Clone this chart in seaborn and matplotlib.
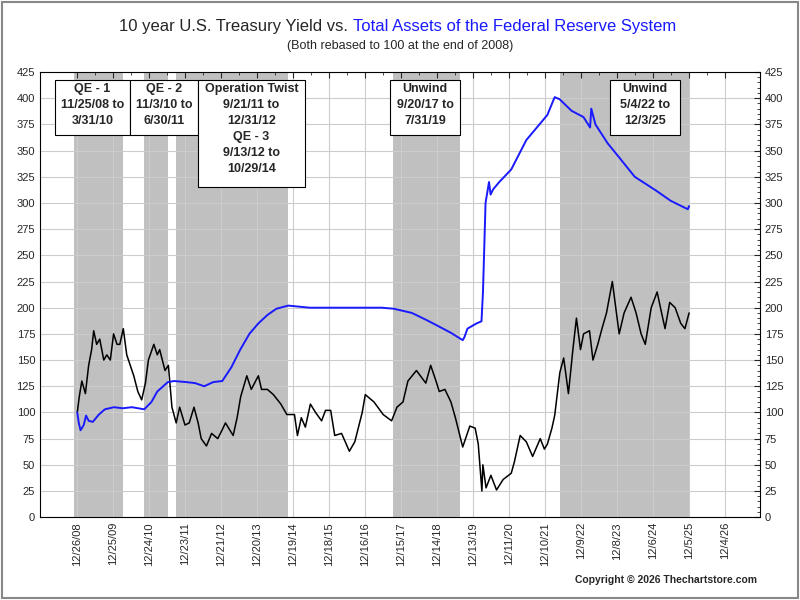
import numpy as np
import pandas as pd
import matplotlib
matplotlib.use("Agg")
import matplotlib.pyplot as plt
import matplotlib.transforms as mtransforms
from matplotlib.ticker import MultipleLocator
import seaborn as sns

sns.set_style("white")
plt.rcParams["font.family"] = ["Liberation Sans", "DejaVu Sans"]

# 10 year yield, rebased (end 2008 = 100)
yield_dates = ["2008-12-26", "2009-01-15", "2009-02-10", "2009-03-18", "2009-04-20", "2009-05-20",
               "2009-06-10", "2009-07-10", "2009-08-10", "2009-09-20", "2009-10-20", "2009-11-25",
               "2009-12-28", "2010-02-01", "2010-03-01", "2010-04-05", "2010-05-10", "2010-06-15",
               "2010-07-20", "2010-08-30", "2010-10-08", "2010-11-15", "2010-12-15", "2011-02-08",
               "2011-03-15", "2011-04-08", "2011-06-01", "2011-07-05", "2011-08-10", "2011-09-22",
               "2011-10-27", "2011-12-20", "2012-02-01", "2012-03-20", "2012-05-01", "2012-06-01",
               "2012-07-24", "2012-09-14", "2012-11-15", "2012-12-28", "2013-02-01", "2013-04-20",
               "2013-05-30", "2013-07-05", "2013-09-05", "2013-10-20", "2013-12-31", "2014-02-01",
               "2014-04-01", "2014-06-01", "2014-08-15", "2014-10-15", "2014-12-31", "2015-01-30",
               "2015-03-10", "2015-04-20", "2015-06-10", "2015-08-01", "2015-10-01", "2015-11-10",
               "2016-01-01", "2016-02-11", "2016-04-20", "2016-07-08", "2016-09-01", "2016-11-15",
               "2016-12-16", "2017-03-14", "2017-06-15", "2017-09-08", "2017-11-01", "2018-01-01",
               "2018-02-20", "2018-05-17", "2018-08-20", "2018-10-08", "2018-12-01", "2019-01-03",
               "2019-03-01", "2019-05-01", "2019-06-15", "2019-08-28", "2019-11-08", "2020-01-01",
               "2020-02-01", "2020-03-09", "2020-03-19", "2020-04-20", "2020-06-08", "2020-08-04",
               "2020-10-10", "2020-12-31", "2021-02-01", "2021-03-31", "2021-06-01", "2021-08-04",
               "2021-10-20", "2021-12-01", "2022-01-01", "2022-02-15", "2022-03-15", "2022-05-06",
               "2022-06-14", "2022-08-01", "2022-09-15", "2022-10-21", "2022-12-01", "2023-01-01",
               "2023-03-02", "2023-04-06", "2023-05-25", "2023-07-06", "2023-08-21", "2023-10-19",
               "2023-12-27", "2024-02-15", "2024-04-25", "2024-06-15", "2024-08-05", "2024-09-16",
               "2024-11-15", "2025-01-14", "2025-02-28", "2025-04-04", "2025-05-21", "2025-07-15",
               "2025-09-10", "2025-10-22", "2025-12-03"]
yield_vals = [100, 115, 130, 118, 145, 160, 178, 165, 170, 150, 155, 150,
              175, 165, 165, 180, 155, 145, 135, 120, 112, 128, 150, 165,
              155, 160, 140, 145, 105, 90, 105, 88, 90, 105, 90, 75,
              68, 80, 75, 83, 90, 78, 95, 115, 135, 122, 135, 122,
              122, 117, 108, 98, 98, 78, 95, 86, 108, 100, 92, 102,
              102, 78, 80, 63, 72, 100, 117, 110, 98, 92, 105, 110,
              130, 140, 128, 145, 130, 120, 122, 110, 95, 67, 87, 85,
              70, 25, 50, 28, 40, 26, 36, 42, 53, 78, 72, 58,
              75, 65, 70, 85, 97, 138, 152, 118, 160, 190, 160, 175,
              178, 150, 165, 180, 195, 225, 175, 195, 210, 195, 175, 165,
              200, 215, 195, 180, 205, 200, 185, 180, 195]

# Fed total assets, rebased (end 2008 = 100)
fed_dates = ["2008-12-26", "2009-01-10", "2009-01-28", "2009-03-01", "2009-03-25", "2009-04-20",
             "2009-06-01", "2009-08-01", "2009-10-01", "2009-12-31", "2010-03-31", "2010-07-01",
             "2010-11-03", "2011-01-15", "2011-03-15", "2011-06-30", "2011-09-01", "2011-12-31",
             "2012-04-01", "2012-07-01", "2012-10-01", "2012-12-31", "2013-04-01", "2013-07-01",
             "2013-10-01", "2013-12-31", "2014-04-01", "2014-07-01", "2014-10-29", "2015-06-01",
             "2016-06-01", "2017-06-01", "2017-10-01", "2018-04-01", "2018-09-01", "2019-01-01",
             "2019-05-01", "2019-08-28", "2019-09-15", "2019-10-15", "2020-01-15", "2020-03-05",
             "2020-03-20", "2020-04-15", "2020-05-20", "2020-06-05", "2020-07-01", "2020-09-01",
             "2020-12-31", "2021-06-01", "2021-12-31", "2022-03-15", "2022-05-04", "2022-09-01",
             "2022-12-31", "2023-03-08", "2023-03-20", "2023-05-01", "2023-09-01", "2023-12-31",
             "2024-06-01", "2024-12-31", "2025-06-01", "2025-11-20", "2025-12-03"]
fed_vals = [100, 90, 83, 88, 97, 92, 91, 98, 103, 105, 104, 105,
            103, 110, 120, 129, 130, 129, 128, 125, 129, 130, 143, 160,
            175, 185, 193, 199, 202, 200, 200, 200, 199, 195, 188, 182,
            176, 169, 172, 180, 185, 187, 215, 300, 320, 308, 313, 320,
            332, 360, 384, 401, 399, 388, 382, 372, 390, 375, 357, 343,
            325, 312, 302, 294, 297]

shade_periods = [("2008-11-25", "2010-03-31"), ("2010-11-03", "2011-06-30"),
                 ("2011-09-21", "2014-10-29"), ("2017-09-20", "2019-07-31"),
                 ("2022-05-04", "2025-12-03")]

notes = ["QE - 1\n11/25/08 to\n3/31/10",
         "QE - 2\n11/3/10 to\n6/30/11",
         "Operation Twist\n9/21/11 to\n12/31/12\nQE - 3\n9/13/12 to\n10/29/14",
         "Unwind\n9/20/17 to\n7/31/19",
         "Unwind\n5/4/22 to\n12/3/25"]

ylds = pd.Series(yield_vals, index=pd.to_datetime(yield_dates))
fed = pd.Series(fed_vals, index=pd.to_datetime(fed_dates))

fig = plt.figure(figsize=(8, 6), dpi=100)
ax = fig.add_axes([0.05, 0.138, 0.90, 0.742])

for s, e in shade_periods:
    ax.axvspan(pd.Timestamp(s), pd.Timestamp(e), color="#c0c0c0", lw=0, zorder=0)

ax.plot(ylds.index, ylds.values, color="black", lw=1.1, zorder=3)
ax.plot(fed.index, fed.values, color="#1a1aff", lw=1.4, zorder=4)

ax.set_xlim(pd.Timestamp("2007-12-15"), pd.Timestamp("2027-11-20"))
ax.set_ylim(0, 425)
ax.yaxis.set_major_locator(MultipleLocator(25))
ax.yaxis.set_minor_locator(MultipleLocator(5))
major = pd.date_range("2008-12-26", "2026-12-10", freq="364D")
ax.set_xticks(major)
ax.set_xticklabels([f"{d.month}/{d.day}/{d.strftime('%y')}" for d in major],
                   rotation=90, fontsize=8)
ax.set_xticks(major[:-1] + pd.Timedelta(days=182), minor=True)
ax.grid(True, which="major", color="#cccccc", lw=0.8, zorder=1)
ax.set_axisbelow(True)
ax.tick_params(axis="both", which="both", direction="in", right=True, labelright=True,
               top=True, labelsize=8)
ax.tick_params(which="major", length=4)
ax.tick_params(which="minor", length=2)
for sp in ax.spines.values():
    sp.set_color("black")
    sp.set_linewidth(0.8)

# annotation boxes: (left, right) edges in figure pixels -> axes fractions
box_edges = [(55, 130), (130, 198), (198, 305), (390, 460), (610, 680)]
for (l, r), t in zip(box_edges, notes):
    x0 = (l - 40) / 720
    w = (r - l) / 720
    nlines = t.count("\n") + 1
    h = (nlines * 17.5 + 2) / 445
    top = (517 - 80) / 445
    ax.add_patch(plt.Rectangle((x0, top - h), w, h, transform=ax.transAxes,
                               fc="white", ec="black", lw=0.8, zorder=6))
    ax.text(x0 + w / 2, top - 0.006, t, transform=ax.transAxes, ha="center", va="top",
            fontsize=9, fontweight="bold", linespacing=1.45, zorder=7)

fig.text(0.441, 0.948, "10 year U.S. Treasury Yield vs. ", ha="right", fontsize=12)
fig.text(0.441, 0.948, "Total Assets of the Federal Reserve System", ha="left",
         fontsize=12, color="#1a1aff")
fig.text(0.5, 0.918, "(Both rebased to 100 at the end of 2008)", ha="center", fontsize=9)
fig.text(0.946, 0.028, "Copyright \u00a9 2026 Thechartstore.com", ha="right",
         fontsize=7.5, fontweight="bold")
fig.patches.append(plt.Rectangle((0.003, 0.003), 0.994, 0.994, transform=fig.transFigure,
                                 fill=False, ec="#888888", lw=1.5))

fig.savefig("out.png", dpi=100)
